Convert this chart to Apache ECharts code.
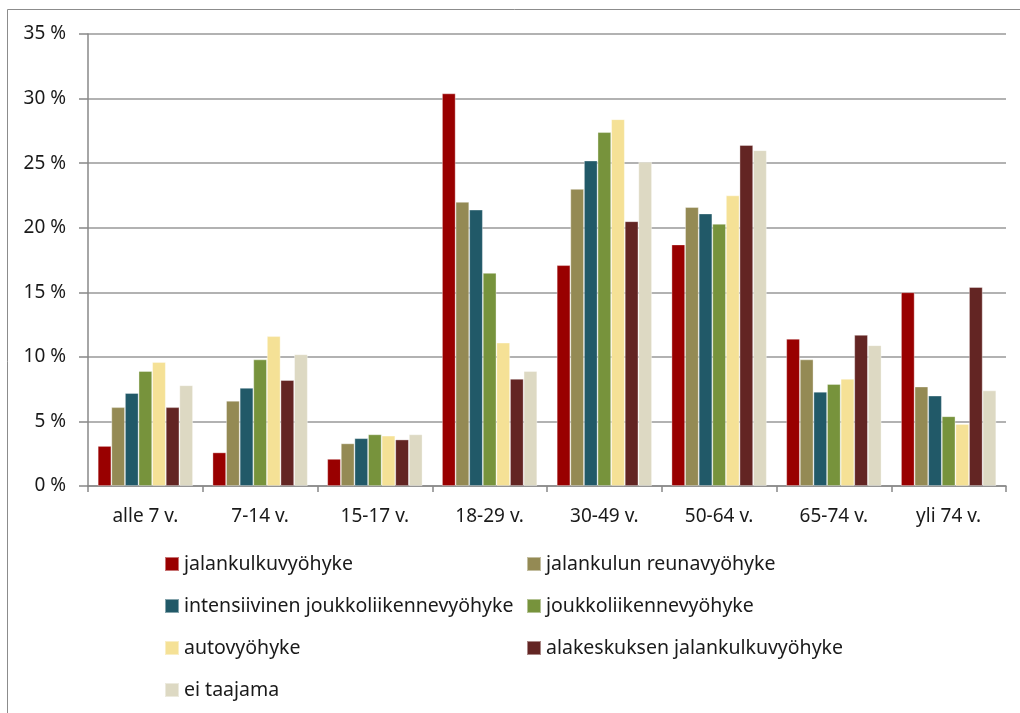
<!DOCTYPE html>
<html>
<head>
<meta charset="utf-8">
<script src="https://cdn.jsdelivr.net/npm/echarts@6/dist/echarts.min.js"></script>
<style>
  html, body { margin: 0; padding: 0; background: #fff; }
  #chart { width: 1020px; height: 713px; }
</style>
</head>
<body>
<div id="chart"></div>
<script>
// Age groups on the category axis
const categories = ['alle 7 v.', '7-14 v.', '15-17 v.', '18-29 v.', '30-49 v.', '50-64 v.', '65-74 v.', 'yli 74 v.'];

// Share of residents (%) per zone type
const jalankulkuvyohyke       = [3.1, 2.6, 2.1, 30.4, 17.1, 18.7, 11.4, 15.0];
const jalankulunReunavyohyke  = [6.1, 6.6, 3.3, 22.0, 23.0, 21.6, 9.8, 7.7];
const intensiivinenJoukko     = [7.2, 7.6, 3.7, 21.4, 25.2, 21.1, 7.3, 7.0];
const joukkoliikennevyohyke   = [8.9, 9.8, 4.0, 16.5, 27.4, 20.3, 7.9, 5.4];
const autovyohyke             = [9.6, 11.6, 3.9, 11.1, 28.4, 22.5, 8.3, 4.8];
const alakeskuksenJalankulku  = [6.1, 8.2, 3.6, 8.3, 20.5, 26.4, 11.7, 15.4];
const eiTaajama               = [7.8, 10.2, 4.0, 8.9, 25.1, 26.0, 10.9, 7.4];

const seriesNames = [
  'jalankulkuvyöhyke',
  'jalankulun reunavyöhyke',
  'intensiivinen joukkoliikennevyöhyke',
  'joukkoliikennevyöhyke',
  'autovyöhyke',
  'alakeskuksen jalankulkuvyöhyke',
  'ei taajama'
];
const seriesData = [
  jalankulkuvyohyke, jalankulunReunavyohyke, intensiivinenJoukko,
  joukkoliikennevyohyke, autovyohyke, alakeskuksenJalankulku, eiTaajama
];
const colors = ['#990000', '#948A54', '#215968', '#77933C', '#F5E196', '#632523', '#DDD9C3'];

const FONT = 'Noto Sans';
const chart = echarts.init(document.getElementById('chart'), null, { renderer: 'canvas' });

const legendText = { fontFamily: FONT, fontSize: 19.5, color: '#1a1a1a', lineHeight: 20 };

chart.setOption({
  animation: false,
  color: colors,
  textStyle: { fontFamily: FONT },
  graphic: [{
    type: 'rect',
    shape: { x: 7.5, y: 9.5, width: 1100, height: 800 },
    style: { fill: 'none', stroke: '#8c8c8c', lineWidth: 1 },
    silent: true
  }],
  grid: { left: 88, right: 14, top: 34, bottom: 227, containLabel: false },
  legend: [
    {
      orient: 'vertical', left: 164, top: 554, padding: 0,
      icon: 'rect', itemWidth: 14, itemHeight: 14, itemGap: 22,
      textStyle: legendText,
      data: [seriesNames[0], seriesNames[2], seriesNames[4], seriesNames[6]]
    },
    {
      orient: 'vertical', left: 526, top: 554, padding: 0,
      icon: 'rect', itemWidth: 14, itemHeight: 14, itemGap: 22,
      textStyle: legendText,
      data: [seriesNames[1], seriesNames[3], seriesNames[5]]
    }
  ],
  xAxis: {
    type: 'category',
    data: categories,
    axisLine: { lineStyle: { color: '#888', width: 1.5 } },
    axisTick: { show: true, length: 6, lineStyle: { color: '#888', width: 1.5 } },
    axisLabel: { fontFamily: FONT, fontSize: 19, color: '#1a1a1a', margin: 21 }
  },
  yAxis: {
    type: 'value',
    min: 0, max: 35, interval: 5,
    axisLine: { show: true, lineStyle: { color: '#888', width: 1.5 } },
    axisTick: { show: true, length: 9, lineStyle: { color: '#888', width: 1.5 } },
    splitLine: { lineStyle: { color: '#999', width: 1.5 } },
    axisLabel: { fontFamily: FONT, fontSize: 19, color: '#1a1a1a', margin: 22, formatter: '{value} %' }
  },
  series: seriesNames.map((name, i) => ({
    name: name,
    type: 'bar',
    data: seriesData[i],
    barGap: '0%',
    barCategoryGap: '17%',
    itemStyle: { borderColor: 'rgba(255,255,255,0.45)', borderWidth: 0.8 }
  }))
});
</script>
</body>
</html>
